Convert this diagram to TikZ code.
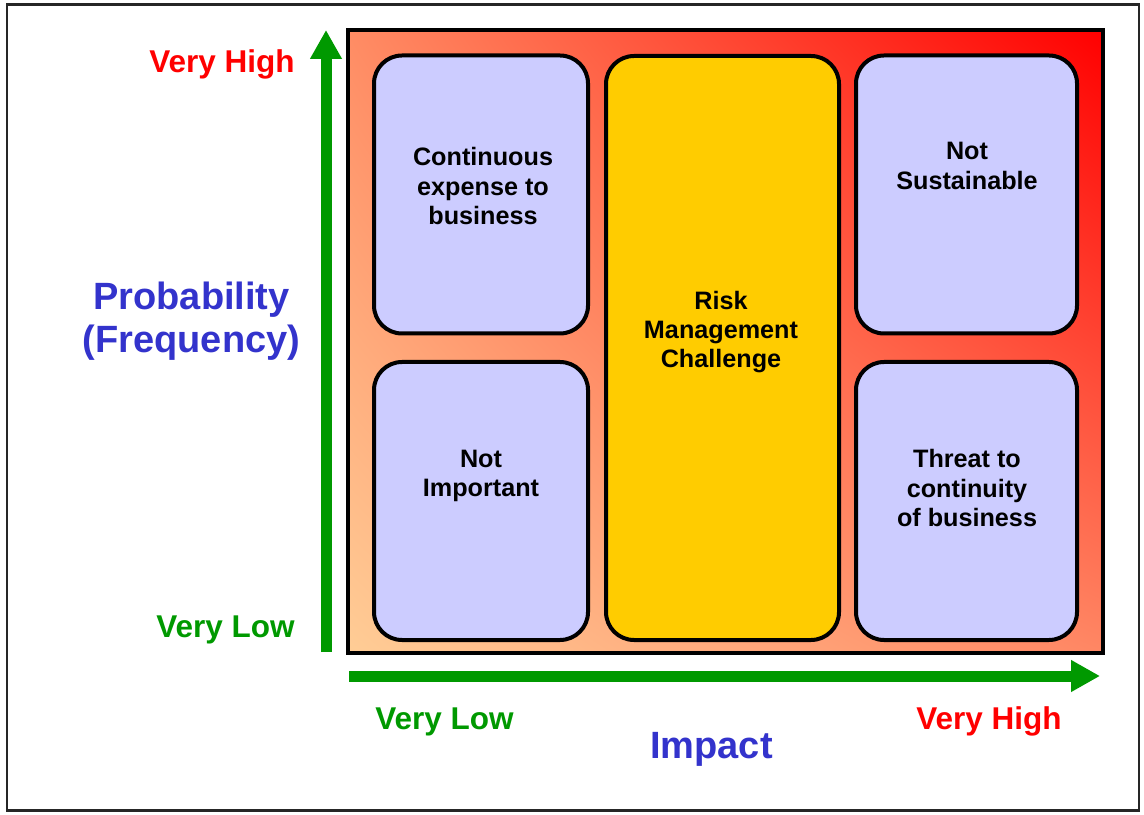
\documentclass[tikz,border=0pt]{standalone}
\usepackage{fontspec}
\setmainfont{Liberation Sans}
\usetikzlibrary{arrows.meta,shadings}

\definecolor{lav}{RGB}{204,204,255}
\definecolor{gold}{RGB}{255,204,0}
\definecolor{axisgreen}{RGB}{0,153,0}
\definecolor{labelblue}{RGB}{51,51,204}
\definecolor{shUL}{RGB}{255,140,100}
\definecolor{shUR}{RGB}{255,0,0}
\definecolor{shLL}{RGB}{255,205,150}
\definecolor{shLR}{RGB}{255,135,100}

\begin{document}
\begin{tikzpicture}[x=0.5pt,y=0.5pt]
      \tikzstyle{every node} = [font=\bfseries]
      \tikzstyle{box} = [draw, line width=2pt, rounded corners=14pt, fill=lav, inner sep=0pt, minimum height=139pt]
      \tikzstyle{boxtext} = [align=center, font=\bfseries\fontsize{12.6}{14.7}\selectfont]
      \tikzstyle{ends} = [inner sep=0pt, font=\bfseries\fontsize{15.75}{18}\selectfont]
      \tikzstyle{title} = [text=labelblue, align=center, font=\bfseries\fontsize{19}{21.5}\selectfont]
      \tikzstyle{axis} = [draw=axisgreen, line width=5.5pt, -{Triangle[length=14.5pt,width=15pt]}]

      \useasboundingbox (0,0) rectangle (1144,814);
      \draw[line width=1.2pt, black!85] (7,3.5) rectangle (1139,809.5);

      % background field
      \shade[upper left=shUL, upper right=shUR, lower left=shLL, lower right=shLR]
        (348,161) rectangle (1103,784);
      \draw[line width=2pt] (348,161) rectangle (1103,784);

      % the four quadrant boxes
      \foreach \name/\x/\y/\w in {cont/481/619.5/107, notimp/481/313/107,
                                  notsus/966.5/619.5/110.5, threat/966.5/313/110.5}{
        \node[box, minimum width=\w pt] (\name) at (\x,\y) {};
      }
      \node[box, fill=gold, minimum width=116.5pt, minimum height=292pt] (risk) at (722.5,466) {};

      \node[boxtext] (cont-t) at (483,628) {Continuous\\expense to\\business};
      \node[boxtext] (notimp-t) at (481,338) {Not\\Important};
      \node[boxtext] (risk-t) at (721,482) {Risk\\Management\\Challenge};
      \node[boxtext] (notsus-t) at (967,648) {Not\\Sustainable};
      \node[boxtext] (threat-t) at (967,326) {Threat to\\continuity\\of business};

      % axes
      \coordinate (yfoot) at (326,162);
      \coordinate (ytip) at (326,784);
      \coordinate (xfoot) at (349,138);
      \coordinate (xtip) at (1100,138);
      \draw[axis] (yfoot) -- (ytip);
      \draw[axis] (xfoot) -- (xtip);

      \node[ends, text=red, anchor=base east] (yhigh) at (295,741) {Very High};
      \node[ends, text=axisgreen, anchor=base east] (ylow) at (295,177) {Very Low};
      \node[ends, text=axisgreen, anchor=base west] (xlow) at (375,85) {Very Low};
      \node[ends, text=red, anchor=base east] (xhigh) at (1062,85) {Very High};

      \node[title] (prob) at (191.5,493) {Probability\\(Frequency)};
      \node[title, anchor=base] (impact) at (711.5,56) {Impact};
\end{tikzpicture}
\end{document}
